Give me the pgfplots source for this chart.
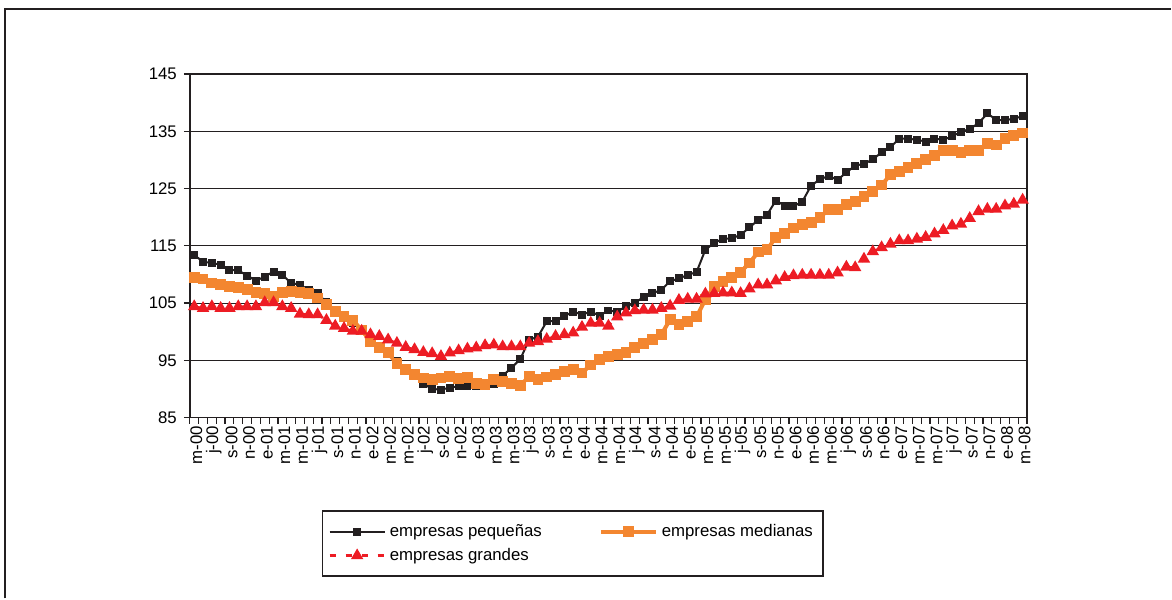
\documentclass[border=0pt]{standalone}
\usepackage{pgfplots}
\usepackage{pgfplotstable}
\pgfplotsset{compat=1.18}
\usepackage{fontspec}
\setmainfont{Liberation Sans}
\definecolor{cblack}{RGB}{35,31,32}
\definecolor{corange}{RGB}{243,134,48}
\definecolor{cred}{RGB}{237,28,36}
\pgfplotstableread{
i peq med gra
0 113.4 109.4 104.4
1 112.2 109.2 104.1
2 112.0 108.5 104.4
3 111.7 108.3 104.1
4 110.8 107.9 104.1
5 110.7 107.7 104.4
6 109.8 107.3 104.4
7 108.9 106.9 104.4
8 109.6 106.6 105.1
9 110.5 106.2 105.1
10 109.9 106.9 104.4
11 108.5 107.0 104.1
12 108.2 106.9 103.1
13 107.3 106.7 103.0
14 106.7 105.9 103.0
15 105.1 104.7 102.0
16 103.8 103.5 101.0
17 103.0 102.7 100.6
18 101.5 102.0 100.1
19 100.3 100.3 100.1
20 98.3 98.3 99.5
21 96.9 97.2 99.2
22 96.3 96.3 98.6
23 94.8 94.4 98.0
24 93.1 93.4 97.3
25 92.5 92.5 96.9
26 90.9 91.9 96.4
27 90.0 91.7 96.2
28 89.9 91.9 95.7
29 90.2 92.2 96.3
30 90.5 91.8 96.7
31 90.5 92.0 97.0
32 90.6 91.0 97.2
33 90.8 90.8 97.6
34 90.9 91.6 97.7
35 92.3 91.3 97.4
36 93.7 91.0 97.4
37 95.2 90.6 97.4
38 98.6 92.2 98.0
39 99.1 91.6 98.3
40 101.8 92.1 98.7
41 101.9 92.5 99.2
42 102.7 93.1 99.5
43 103.5 93.4 99.8
44 103.0 92.8 100.8
45 103.5 94.2 101.5
46 102.8 95.1 101.5
47 103.7 95.7 101.0
48 103.5 96.0 102.6
49 104.4 96.3 103.3
50 105.0 97.3 103.7
51 106.1 97.9 103.8
52 106.7 98.6 103.8
53 107.3 99.5 104.1
54 108.8 102.1 104.5
55 109.3 101.2 105.5
56 109.9 101.8 105.7
57 110.4 102.6 105.7
58 114.3 105.6 106.6
59 115.5 107.9 106.7
60 116.2 108.8 106.8
61 116.3 109.5 106.8
62 116.9 110.4 106.7
63 118.2 112.0 107.5
64 119.5 113.9 108.2
65 120.4 114.3 108.2
66 122.9 116.5 108.9
67 122.0 117.2 109.5
68 121.9 118.1 109.8
69 122.7 118.7 109.9
70 125.5 119.0 109.9
71 126.6 120.0 109.9
72 127.2 121.3 109.9
73 126.5 121.4 110.3
74 127.8 122.2 111.3
75 129.0 122.7 111.2
76 129.3 123.6 112.7
77 130.1 124.5 114.0
78 131.3 125.6 114.7
79 132.2 127.4 115.3
80 133.7 128.0 115.9
81 133.7 128.6 115.9
82 133.5 129.3 116.2
83 133.2 130.1 116.5
84 133.7 130.7 117.1
85 133.5 131.6 117.7
86 134.1 131.7 118.5
87 134.9 131.3 118.8
88 135.4 131.6 119.8
89 136.4 131.7 121.0
90 138.1 132.9 121.4
91 137.0 132.6 121.4
92 136.9 133.7 122.0
93 137.2 134.2 122.3
94 137.6 134.7 123.0
}\datatable
\begin{document}
\begin{tikzpicture}
\path (0pt,0pt) rectangle (586pt,299.5pt);
\draw[line width=1.1pt, color=cblack] (2.5pt,0pt) -- (2.5pt,295pt) -- (586pt,295pt);
\begin{axis}[
  at={(95pt,90.5pt)}, anchor=south west,
  width=419pt, height=172pt, scale only axis,
  xmin=-0.5, xmax=94.5, ymin=85, ymax=145,
  axis line style={cblack, line width=0.7pt},
  tick align=outside,
  xtick pos=left, ytick pos=left,
  ytick={85,95,...,145},
  ymajorgrids, grid style={cblack, line width=0.55pt},
  major tick length=3pt,
  minor tick length=3pt,
  tick style={cblack, line width=0.6pt},
  xtick={0,2,...,94},
  major x tick style={draw=none},
  minor xtick={-0.5,0.5,...,94.5},
  xticklabels={m-00,j-00,s-00,n-00,
    e-01,m-01,m-01,j-01,s-01,n-01,
    e-02,m-02,m-02,j-02,s-02,n-02,
    e-03,m-03,m-03,j-03,s-03,n-03,
    e-04,m-04,m-04,j-04,s-04,n-04,
    e-05,m-05,m-05,j-05,s-05,n-05,
    e-06,m-06,m-06,j-06,s-06,n-06,
    e-07,m-07,m-07,j-07,s-07,n-07,
    e-08,m-08},
  x tick label style={rotate=90, anchor=east, font=\fontsize{8.4}{9.8}\selectfont, inner sep=1pt, yshift=-1pt},
  y tick label style={font=\fontsize{8.4}{9.8}\selectfont},
  /pgf/number format/assume math mode=true,
  legend columns=2,
  legend cell align=left,
  legend style={at={(0.1575,-0.2703)}, anchor=north west, draw=cblack, line width=0.8pt,
    font=\fontsize{8.4}{9.8}\selectfont, inner xsep=3pt, inner ysep=4.5pt,
    /tikz/every even column/.append style={column sep=26.5pt},
    row sep=0.3pt},
  legend image code/.code={\draw[mark repeat=2,mark phase=2,#1] plot coordinates {(0pt,0pt) (13.75pt,0pt) (27.5pt,0pt)};},
]
\addplot[color=cblack, line width=1pt, mark=square*, mark size=1.5pt] table[x=i, y=peq] {\datatable};
\addlegendentry{empresas pequeñas}
\addplot[color=corange, line width=2pt, mark=square*, mark size=1.7pt] table[x=i, y=med] {\datatable};
\addlegendentry{empresas medianas}
\addplot[color=cred, line width=1.2pt, dash pattern=on 3pt off 5pt, mark=triangle*, mark size=2.4pt, mark options={solid}] table[x=i, y=gra] {\datatable};
\addlegendentry{empresas grandes}
\end{axis}
\end{tikzpicture}
\end{document}
